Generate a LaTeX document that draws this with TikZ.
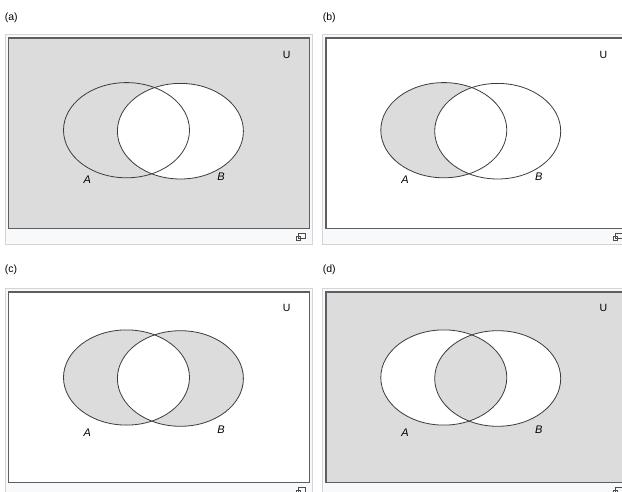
\documentclass[tikz,border=0pt]{standalone}
\usepackage{fontspec}
\setmainfont{Liberation Sans}
\definecolor{shadecol}{HTML}{DCDCDC}
\definecolor{thumbbg}{HTML}{F8F9FA}
\definecolor{thumbline}{HTML}{D2D4D7}
\definecolor{framecol}{HTML}{5E5E5E}
\definecolor{curvecol}{HTML}{3C3C3C}
\tikzset{
  thumb/.style={draw=thumbline, fill=thumbbg, line width=1pt},
  framebox/.style={draw=framecol, line width=1.5pt},
  curve/.style={draw=curvecol, line width=0.8pt},
  panellabel/.style={anchor=west, inner sep=0pt, font=\fontsize{10.5}{12}\selectfont},
  ulabel/.style={inner sep=0pt, font=\fontsize{10.5}{12}\selectfont},
  setlabel/.style={inner sep=0pt, font=\fontsize{11}{13}\selectfont\itshape},
  iconline/.style={draw=black!70, line width=0.7pt},
  ellA/.style={x radius=63pt, y radius=47.6pt},
}
\newcommand\ellApath[1]{(126.5,#1) ellipse [x radius=63pt, y radius=47.6pt]}
\newcommand\ellBpath[1]{(180.4,#1) ellipse [x radius=63pt, y radius=47.8pt]}
\begin{document}
\begin{tikzpicture}[x=1pt, y=-1pt]
\clip (0,0) rectangle (622,492);
\fill[white] (0,0) rectangle (622,492);

% ---------- (a) complement of B ----------
\begin{scope}
  \node[panellabel] (la) at (4.7,17.6) {(a)};
  \draw[thumb] (5.5,34.3) rectangle (312.7,245);
  \fill[shadecol] (8.5,38) rectangle (309.3,228.5);
  \fill[white] \ellBpath{131.2};
  \draw[curve] \ellApath{130.2};
  \draw[curve] \ellBpath{131.2};
  \draw[framebox] (8.5,38) rectangle (309.3,228.5);
  \node[ulabel] (ua) at (286.7,55.3) {U};
  \node[setlabel] (aa) at (87.3,180) {A};
  \node[setlabel] (ba) at (221,176.7) {B};
  \draw[iconline] (298.5,233.5) rectangle (305.5,238.5);
  \draw[iconline] (296,236.5) rectangle (300.5,240);
\end{scope}

% ---------- (b) A minus B ----------
\begin{scope}[shift={(317.3,0)}]
  \node[panellabel] (lb) at (5.4,17.6) {(b)};
  \draw[thumb] (5.5,34.3) rectangle (312.7,245);
  \fill[white] (8.5,38) rectangle (309.3,228.5);
  \fill[shadecol] \ellApath{130.2};
  \fill[white] \ellBpath{131.2};
  \draw[curve] \ellApath{130.2};
  \draw[curve] \ellBpath{131.2};
  \draw[framebox] (8.5,38) rectangle (309.3,228.5);
  \node[ulabel] (ub) at (286,55.3) {U};
  \node[setlabel] (ab) at (87.7,180) {A};
  \node[setlabel] (bb) at (221.4,176.7) {B};
  \draw[iconline] (298.5,233.5) rectangle (305.5,238.5);
  \draw[iconline] (296,236.5) rectangle (300.5,240);
\end{scope}

% ---------- (c) symmetric difference ----------
\begin{scope}[shift={(0,254)}]
  \node[panellabel] (lc) at (4.7,16) {(c)};
  \draw[thumb] (5.5,34.3) rectangle (312.7,245);
  \fill[white] (8.5,38) rectangle (309.3,228.5);
  \fill[shadecol] \ellApath{123.5};
  \fill[shadecol] \ellBpath{124.5};
  \begin{scope}
    \clip \ellApath{123.5};
    \fill[white] \ellBpath{124.5};
  \end{scope}
  \draw[curve] \ellApath{123.5};
  \draw[curve] \ellBpath{124.5};
  \draw[framebox] (8.5,38) rectangle (309.3,228.5);
  \node[ulabel] (uc) at (286.7,54.3) {U};
  \node[setlabel] (ac) at (87.3,178.7) {A};
  \node[setlabel] (bc) at (221,176) {B};
  \draw[iconline] (298.5,233.5) rectangle (305.5,238.5);
  \draw[iconline] (296,236.5) rectangle (300.5,240);
\end{scope}

% ---------- (d) complement of symmetric difference ----------
\begin{scope}[shift={(317.3,254)}]
  \node[panellabel] (ld) at (5.4,16) {(d)};
  \draw[thumb] (5.5,34.3) rectangle (312.7,245);
  \fill[shadecol] (8.5,38) rectangle (309.3,228.5);
  \fill[white] \ellApath{123.5};
  \fill[white] \ellBpath{124.5};
  \begin{scope}
    \clip \ellApath{123.5};
    \fill[shadecol] \ellBpath{124.5};
  \end{scope}
  \draw[curve] \ellApath{123.5};
  \draw[curve] \ellBpath{124.5};
  \draw[framebox] (8.5,38) rectangle (309.3,228.5);
  \node[ulabel] (ud) at (286,54.3) {U};
  \node[setlabel] (ad) at (87.7,178.7) {A};
  \node[setlabel] (bd) at (221.4,176) {B};
  \draw[iconline] (298.5,233.5) rectangle (305.5,238.5);
  \draw[iconline] (296,236.5) rectangle (300.5,240);
\end{scope}
\end{tikzpicture}
\end{document}
